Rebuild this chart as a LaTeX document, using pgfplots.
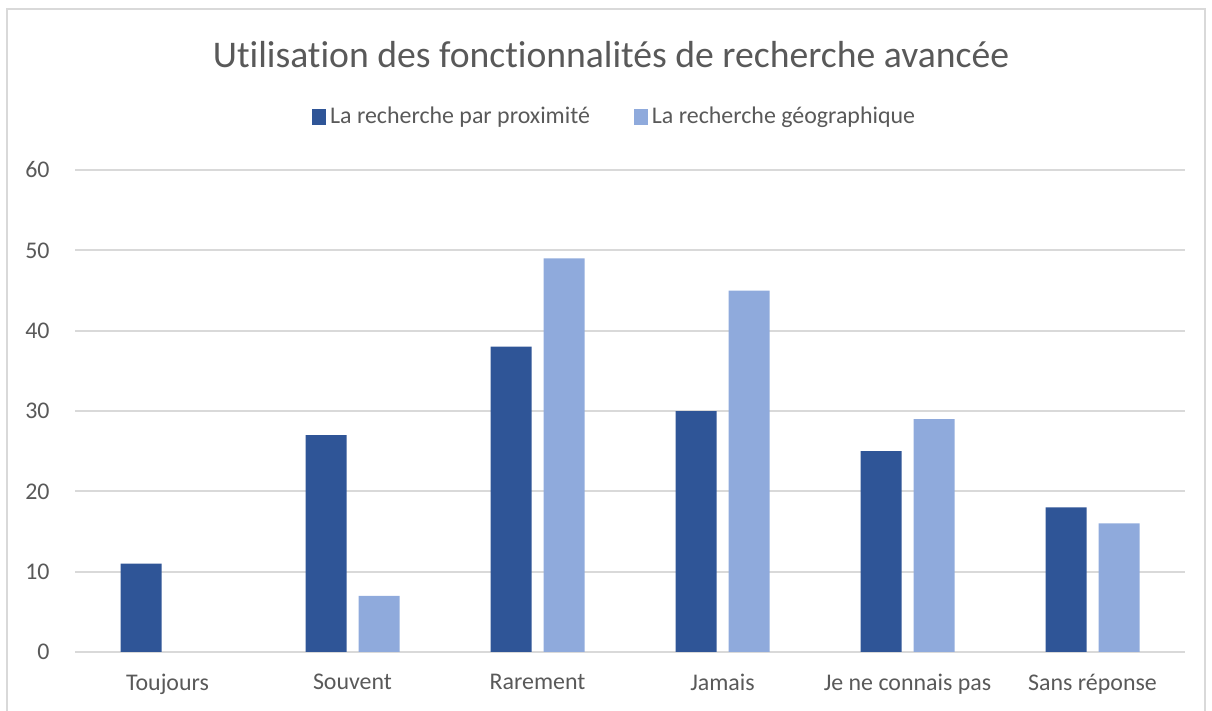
\documentclass[border=0pt]{standalone}
\usepackage{pgfplots}
\pgfplotsset{compat=1.18}
\usepackage{fontspec}
\setmainfont[Ligatures=NoCommon]{Carlito}
\definecolor{darkbar}{RGB}{47,85,151}
\definecolor{lightbar}{RGB}{143,170,220}
\definecolor{txtgray}{RGB}{89,89,89}
\definecolor{gridgray}{RGB}{217,217,217}
\begin{document}
\begin{tikzpicture}
% frame, 1px = 0.5bp
\path[use as bounding box] (0,0) rectangle (606bp,355.5bp);
\draw[gridgray, line width=1bp] (3.5bp,-2bp) -- (3.5bp,351bp) -- (602.5bp,351bp) -- (602.5bp,-2bp);
\node[font=\fontsize{18.9}{22}\selectfont, text=txtgray] at (305.5bp,328bp)
  {Utilisation des fonctionnalités de recherche avancée};
\begin{axis}[
  at={(37.5bp,29.5bp)}, anchor=south west,
  scale only axis, width=555bp, height=241bp,
  xmin=-0.5, xmax=5.5, ymin=0, ymax=60,
  xtick={0,1,2,3,4,5},
  xticklabels={Toujours, Souvent, Rarement, Jamais, Je ne connais pas, Sans réponse},
  ytick={0,10,20,30,40,50,60},
  axis line style={draw=none},
  major tick length=0pt,
  ymajorgrids, grid style={gridgray, line width=1bp},
  tick label style={font=\fontsize{12}{14}\selectfont, text=txtgray},
  /pgf/number format/assume math mode=true,
  yticklabel style={inner sep=0pt, anchor=east, xshift=-12.5bp},
  xticklabel style={inner sep=0pt, anchor=north, yshift=-11bp},
  ybar, bar width=20.5bp,
  legend columns=2,
  legend style={draw=none, fill=none, at={(0.487,1.11)}, anchor=center,
    font=\fontsize{12}{14}\selectfont, text=txtgray,
    /tikz/every even column/.append style={column sep=20bp}},
  legend image code/.code={\fill[#1] (0bp,-4bp) rectangle (7bp,4bp);},
]
\addplot[fill=darkbar, draw=none, bar shift=-13.25bp] coordinates {
  (0,11) (1,27) (2,38) (3,30) (4,25) (5,18)};
\addlegendentry{La recherche par proximité}
\addplot[fill=lightbar, draw=none, bar shift=13.25bp] coordinates {
  (0,0) (1,7) (2,49) (3,45) (4,29) (5,16)};
\addlegendentry{La recherche géographique}
\end{axis}
\end{tikzpicture}
\end{document}
